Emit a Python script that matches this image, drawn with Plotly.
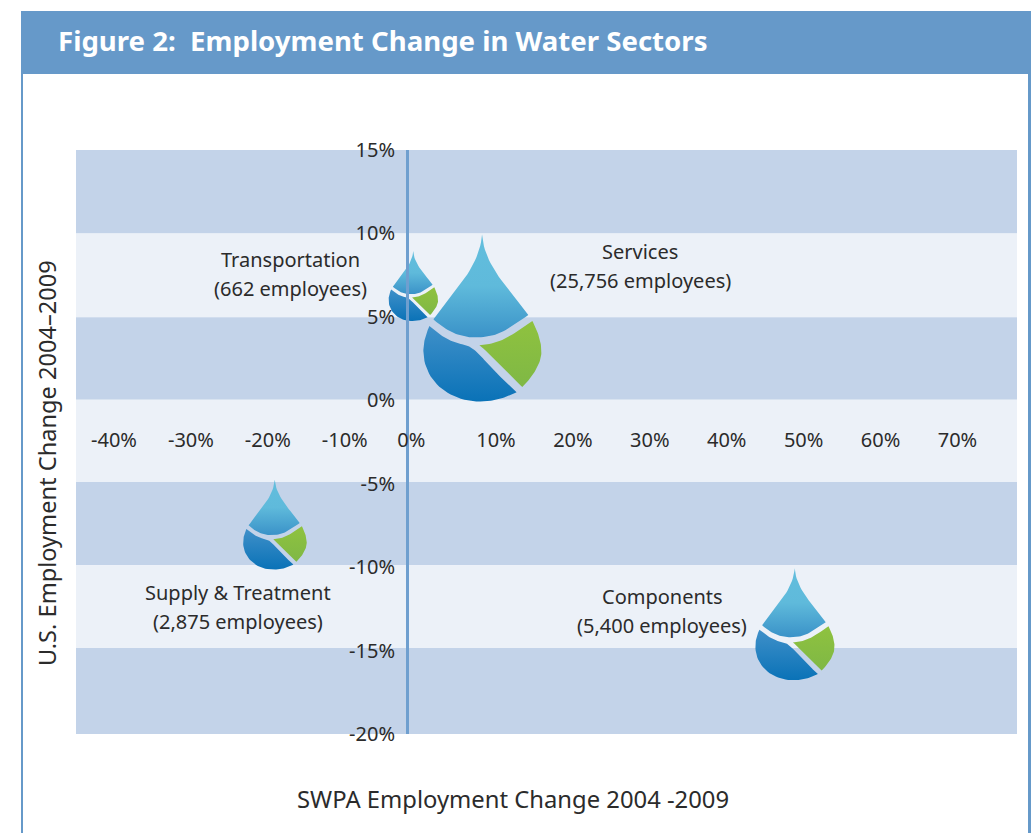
import plotly.graph_objects as go

# ---- data ----
x_ticks = [-40, -30, -20, -10, 0, 10, 20, 30, 40, 50, 60, 70]
y_ticks = [15, 10, 5, 0, -5, -10, -15, -20]
band_edges = [15, 10, 4.97, 0.03, -4.9, -9.88, -14.85, -20]
sectors = ["Transportation", "Services", "Supply & Treatment", "Components"]
employees = ["662 employees", "25,756 employees", "2,875 employees", "5,400 employees"]
swpa_change = [0.8, 9.75, -17.2, 50.4]
us_change = [5.95, 2.8, -8.6, -14.85]
drop_height = [70, 167, 90, 112]
label_x = [-15.1, 30.3, -22.0, 33.2]
label_y = [7.57, 8.06, -12.36, -12.61]

# ---- layout constants ----
W, H = 1032, 833
L, R, T, B = 76, 1017, 150, 734
XMIN, XMAX = -43.04, 79.3
YMIN, YMAX = -20, 15
px_x = (R - L) / (XMAX - XMIN)
px_y = (B - T) / (YMAX - YMIN)
FONT = "Noto Sans"
TXT = "#2b2b2b"
BLUE = "#6699C9"
DARK = "#C3D3E9"
LIGHT = "#ECF1F8"
NB = "\u00a0"


def x_label(v):
    # the source sets its labels slightly off the tick: padded with no-break spaces
    if v < 0:
        return f"{NB}{v}%"
    if v == 0:
        return f"{v}%{NB * 3}"
    return f"{v}%"


def bez(p0, p1, p2, p3, n=24):
    out = []
    for i in range(n + 1):
        t = i / n
        a, b, c, d = (1 - t) ** 3, 3 * t * (1 - t) ** 2, 3 * t * t * (1 - t), t ** 3
        out.append((a * p0[0] + b * p1[0] + c * p2[0] + d * p3[0],
                    a * p0[1] + b * p1[1] + c * p2[1] + d * p3[1]))
    return out


def piece(start, segs):
    pts, cur = [], start
    for s in segs:
        pts += bez(cur, s[0], s[1], s[2])
        cur = s[2]
    return pts


# Drop outline template, in a 498-unit-tall design space
ORIGIN = (305, 400)
TOP = piece((305, 45), [((312, 140), (385, 205), (443, 285)),
                        ((385, 325), (355, 352), (285, 352)),
                        ((235, 352), (195, 330), (160, 298)),
                        ((225, 210), (298, 140), (305, 45))])
LEFT = piece((148, 318), [((185, 350), (215, 368), (250, 373)),
                          ((285, 380), (310, 420), (340, 450)),
                          ((362, 472), (385, 494), (408, 515)),
                          ((370, 535), (335, 543), (300, 543)),
                          ((200, 543), (130, 475), (130, 392)),
                          ((130, 365), (138, 340), (148, 318))])
GREEN = piece((297, 375), [((360, 372), (395, 345), (455, 303)),
                           ((475, 340), (482, 370), (482, 395)),
                           ((482, 430), (455, 470), (425, 500)),
                           ((385, 460), (345, 415), (297, 375))])
PIECES = [
    (TOP, [[0, "#62BEDD"], [0.5, "#5FBADB"], [1, "#3A92C8"]]),
    (LEFT, [[0, "#3F90C9"], [1, "#0A72B7"]]),
    (GREEN, [[0, "#8FC23F"], [1, "#7FB845"]]),
]

fig = go.Figure()

for name, cx, cy, h in zip(sectors, swpa_change, us_change, drop_height):
    k = h / 498
    for pts, scale in PIECES:
        xs = [cx + (p[0] - ORIGIN[0]) * k / px_x for p in pts]
        ys = [cy - (p[1] - ORIGIN[1]) * k / px_y for p in pts]
        fig.add_trace(go.Scatter(
            x=xs, y=ys, mode="lines", fill="toself", name=name,
            line=dict(width=0, color=scale[-1][1]),
            fillgradient=dict(type="vertical", start=max(ys), stop=min(ys), colorscale=scale),
            hoverinfo="name", showlegend=False))

shapes = []
# banded background
for i in range(len(band_edges) - 1):
    shapes.append(dict(type="rect", xref="paper", yref="y", x0=0, x1=1,
                       y0=band_edges[i + 1], y1=band_edges[i], layer="below", line_width=0,
                       fillcolor=DARK if i % 2 == 0 else LIGHT))
# header bar and frame (in paper units, computed from pixels)
def fx(p): return (p - L) / (R - L)
def fy(p): return (B - p) / (B - T)
shapes.append(dict(type="rect", xref="paper", yref="paper", x0=fx(21), x1=fx(1031),
                   y0=fy(74), y1=fy(11), fillcolor=BLUE, line_width=0, layer="below"))
for a, b in [(21, 23), (1028, 1031)]:
    shapes.append(dict(type="rect", xref="paper", yref="paper", x0=fx(a), x1=fx(b),
                       y0=fy(833), y1=fy(74), fillcolor=BLUE, line_width=0, layer="below"))

annotations = []
for nm, emp, lx, ly in zip(sectors, employees, label_x, label_y):
    for txt, shift in [(nm, 14.5), (f"({emp})", -14.5)]:
        annotations.append(dict(x=lx, y=ly, xref="x", yref="y", showarrow=False, yshift=shift,
                                text=txt, xanchor="center", yanchor="middle",
                                font=dict(family=FONT, size=20, color=TXT)))
annotations.append(dict(xref="paper", yref="paper", x=fx(513), y=fy(799), showarrow=False,
                        xanchor="center", yanchor="middle",
                        text="SWPA Employment Change 2004 -2009",
                        font=dict(family=FONT, size=23.8, color=TXT)))
annotations.append(dict(xref="paper", yref="paper", x=fx(47), y=fy(463), showarrow=False,
                        xanchor="center", yanchor="middle",
                        textangle=-90, text="U.S. Employment Change 2004\u20132009",
                        font=dict(family=FONT, size=23.6, color=TXT)))

fig.update_layout(
    width=W, height=H, autosize=False,
    margin=dict(l=L, r=W - R, t=T, b=H - B, pad=0),
    paper_bgcolor="white", plot_bgcolor="white",
    showlegend=False,
    shapes=shapes, annotations=annotations,
    title=dict(text="<b>Figure 2:  Employment Change in Water Sectors</b>",
               x=58 / W, xanchor="left", y=1 - 41 / H, yanchor="middle",
               font=dict(family=FONT, size=27.6, color="white")),
    xaxis=dict(range=[XMIN, XMAX], tickvals=x_ticks, ticktext=[x_label(v) for v in x_ticks],
               showgrid=False, zeroline=False, showline=False, ticks="",
               anchor="free", position=(B - 426) / (B - T), side="bottom",
               ticklabelshift=12,
               tickfont=dict(family=FONT, size=20, color=TXT)),
    yaxis=dict(range=[YMIN, YMAX], tickvals=y_ticks, ticktext=[f"{v}%" for v in y_ticks],
               showgrid=False, zeroline=False, showline=True, linecolor="#6F9FCF", linewidth=3,
               ticks="", anchor="free", position=(0 - XMIN) / (XMAX - XMIN), side="left",
               ticklabelstandoff=7,
               tickfont=dict(family=FONT, size=20, color=TXT)),
)

fig.write_html("out.html", config=dict(displayModeBar=False),
               post_script="document.body.style.margin='0';document.body.style.overflow='hidden';")
